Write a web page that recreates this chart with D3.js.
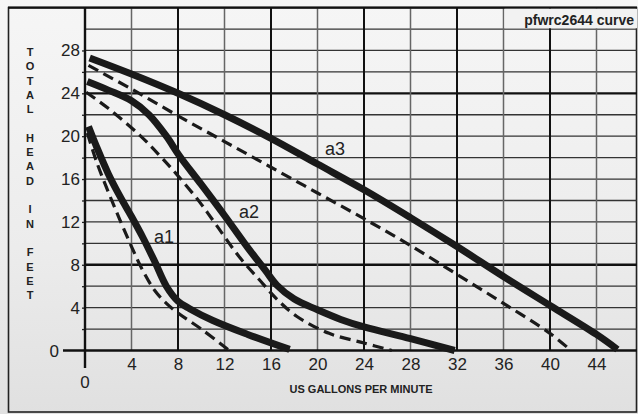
<!DOCTYPE html>
<html>
<head>
<meta charset="utf-8">
<script src="https://cdn.jsdelivr.net/npm/d3@7"></script>
<style>
  body { margin: 0; background: #ececec; }
  svg { display: block; font-family: "Liberation Sans", Arial, sans-serif; }
</style>
</head>
<body>
<div id="chart"></div>
<script>

// pump curves, [gpm, feet]
var a1Solid = [[0.3,20.9],[1,19.0],[2,16.5],[3,14.4],[4,12.5],[5,10.5],[6,8.3],[7,6.0],[8,4.6],[9,3.9],[11,2.8],[14,1.5],[17.6,0.1]];
var a1Dash  = [[0.2,20.3],[1,17.6],[2,14.8],[3,12.2],[4,9.7],[5,7.4],[6,5.6],[7,4.4],[8,3.5],[10,2.0],[12.3,0.1]];
var a2Solid = [[0.2,25.1],[2,24.3],[4,23.3],[5.5,22.0],[7,20.0],[8.1,18.2],[10,15.5],[12,12.6],[14,9.6],[15.5,7.5],[16.5,6.1],[18,4.8],[20,3.8],[22,2.9],[24,2.2],[28,1.1],[31.8,0]];
var a2Dash  = [[0.1,24.1],[2,22.6],[4.7,20.1],[6.5,18.1],[8,16.3],[9.9,13.8],[11.3,11.7],[13.3,8.7],[15,6.6],[16.5,4.8],[18.2,3.2],[21,1.6],[24,0.7],[26.4,0]];
var a3Solid = [[0.4,27.3],[4,25.8],[8,24.0],[12,22.0],[16,19.8],[20,17.4],[24,15.0],[28,12.4],[32,9.7],[36,6.9],[40,4.2],[44,1.5],[45.8,0.1]];
var a3Dash  = [[0.3,26.6],[4,24.4],[8,21.9],[12,19.5],[16,17.1],[20,14.7],[24,12.3],[28,9.8],[32,7.1],[36,4.4],[40,1.6],[41.8,0]];

var curveLabels = [{name:'a1', at:[6.8,10.0]}, {name:'a2', at:[14.1,12.4]}, {name:'a3', at:[21.5,18.2]}];

var xTicks = [4,8,12,16,20,24,28,32,36,40,44];
var yTicks = [0,4,8,12,16,20,24,28];
var yTitle = 'TOTAL HEAD IN FEET';
var xTitle = 'US GALLONS PER MINUTE';
var title = 'pfwrc2644 curve';

var width = 638, height = 414;

var x = d3.scaleLinear().domain([0, 48]).range([85, 643]);
var y = d3.scaleLinear().domain([0, 32]).range([350.5, 7.6]);

var svg = d3.select('#chart').append('svg')
    .attr('width', width)
    .attr('height', height);

var defs = svg.append('defs');
var grad = defs.append('linearGradient').attr('id', 'bg')
    .attr('x1', 0).attr('y1', 0).attr('x2', 0).attr('y2', 1);
grad.append('stop').attr('offset', '0%').attr('stop-color', '#f6f6f6');
grad.append('stop').attr('offset', '60%').attr('stop-color', '#ececec');
grad.append('stop').attr('offset', '100%').attr('stop-color', '#e0e0e0');

svg.append('rect')
    .attr('width', width).attr('height', height)
    .attr('fill', 'url(#bg)');

// outer frame
svg.append('rect')
    .attr('x', 8.5).attr('y', y(32))
    .attr('width', 628).attr('height', 412 - y(32))
    .attr('fill', 'none')
    .attr('stroke', '#222')
    .attr('stroke-width', 1.6);

var grid = svg.append('g');

// horizontal grid, every 2 ft
var hLines = d3.range(2, 32, 2);
grid.selectAll('.h').data(hLines).enter().append('line')
    .attr('x1', x(0)).attr('x2', 637)
    .attr('y1', function (d) { return y(d); })
    .attr('y2', function (d) { return y(d); })
    .attr('stroke', function (d) { return d % 8 == 0 && d != 16 ? '#111' : '#333'; })
    .attr('stroke-width', function (d) { return d % 8 == 0 && d != 16 ? 2.4 : 1.3; });

// vertical grid, every 4 gpm
grid.selectAll('.v').data(xTicks).enter().append('line')
    .attr('y1', y(32)).attr('y2', y(0))
    .attr('x1', function (d) { return x(d); })
    .attr('x2', function (d) { return x(d); })
    .attr('stroke', function (d) { return d % 8 == 0 ? '#111' : '#666'; })
    .attr('stroke-width', function (d) { return d % 8 == 0 ? 2 : 1.5; });

// top border of the grid
grid.append('line')
    .attr('x1', 8).attr('x2', 637)
    .attr('y1', y(32)).attr('y2', y(32))
    .attr('stroke', '#111').attr('stroke-width', 2.4);

// title box
svg.append('rect')
    .attr('x', x(36) + 1).attr('y', y(32) + 1.2)
    .attr('width', 637 - x(36) - 1).attr('height', y(30) - y(32) - 2)
    .attr('fill', '#f2f2f2');
svg.append('text')
    .attr('x', 634).attr('y', 24.5)
    .attr('text-anchor', 'end')
    .style('font-size', '14px').style('font-weight', 'bold')
    .attr('fill', '#222')
    .text(title);

// small ticks on the y axis
svg.append('g')
    .attr('transform', 'translate(' + x(0) + ',0)')
    .call(d3.axisLeft(y).tickValues(d3.range(2, 30, 2)).tickSize(3).tickFormat(''))
    .call(function (g) {
        g.select('.domain').remove();
        g.selectAll('line').attr('stroke', '#222').attr('stroke-width', 1.3);
    });

// y tick labels
svg.append('g')
    .attr('transform', 'translate(' + x(0) + ',0)')
    .call(d3.axisLeft(y).tickValues(yTicks.filter(function (d) { return d > 0; })).tickSize(0).tickPadding(5))
    .attr('font-family', null)
    .call(function (g) {
        g.select('.domain').remove();
        g.selectAll('text').style('font-size', '17px').attr('fill', '#222');
    });

// x tick labels
svg.append('g')
    .attr('transform', 'translate(0,' + y(0) + ')')
    .call(d3.axisBottom(x).tickValues(xTicks).tickSize(0).tickPadding(7))
    .attr('font-family', null)
    .call(function (g) {
        g.select('.domain').remove();
        g.selectAll('text').style('font-size', '17px').attr('fill', '#222');
    });

// zero labels
svg.append('text')
    .attr('x', 59).attr('y', y(0) + 6)
    .attr('text-anchor', 'end')
    .style('font-size', '17px').attr('fill', '#222')
    .text(yTicks[0]);
svg.append('text')
    .attr('x', x(0)).attr('y', 388)
    .attr('text-anchor', 'middle')
    .style('font-size', '17px').attr('fill', '#222')
    .text(yTicks[0]);

// main axes
svg.append('line')
    .attr('x1', 63).attr('x2', 637)
    .attr('y1', y(0)).attr('y2', y(0))
    .attr('stroke', '#111').attr('stroke-width', 2.4);
svg.append('line')
    .attr('x1', x(0)).attr('x2', x(0))
    .attr('y1', y(32)).attr('y2', 368)
    .attr('stroke', '#111').attr('stroke-width', 2.4);

// axis titles
svg.append('g').selectAll('text')
    .data(yTitle.split(''))
    .enter().append('text')
    .attr('x', 30)
    .attr('y', function (d, i) { return 56 + i * 14.3; })
    .attr('text-anchor', 'middle')
    .style('font-size', '11px').style('font-weight', 'bold')
    .attr('fill', '#222')
    .text(function (d) { return d; });

svg.append('text')
    .attr('x', 361).attr('y', 393)
    .attr('text-anchor', 'middle')
    .style('font-size', '11px').style('font-weight', 'bold')
    .attr('fill', '#222')
    .text(xTitle);

// curves
var line = d3.line()
    .x(function (d) { return x(d[0]); })
    .y(function (d) { return y(d[1]); })
    .curve(d3.curveCatmullRom.alpha(0.5));

var curves = svg.append('g').attr('fill', 'none');

[a1Dash, a2Dash, a3Dash].forEach(function (c) {
    curves.append('path')
        .attr('d', line(c))
        .attr('stroke', '#1a1a1a')
        .attr('stroke-width', 3.2)
        .attr('stroke-dasharray', '11,6');
});

[a1Solid, a2Solid, a3Solid].forEach(function (c) {
    curves.append('path')
        .attr('d', line(c))
        .attr('stroke', '#1a1a1a')
        .attr('stroke-width', 7);
});

svg.append('g').selectAll('text')
    .data(curveLabels)
    .enter().append('text')
    .attr('x', function (d) { return x(d.at[0]); })
    .attr('y', function (d) { return y(d.at[1]); })
    .attr('text-anchor', 'middle')
    .style('font-size', '18px')
    .attr('fill', '#222')
    .text(function (d) { return d.name; });

</script>
</body>
</html>
